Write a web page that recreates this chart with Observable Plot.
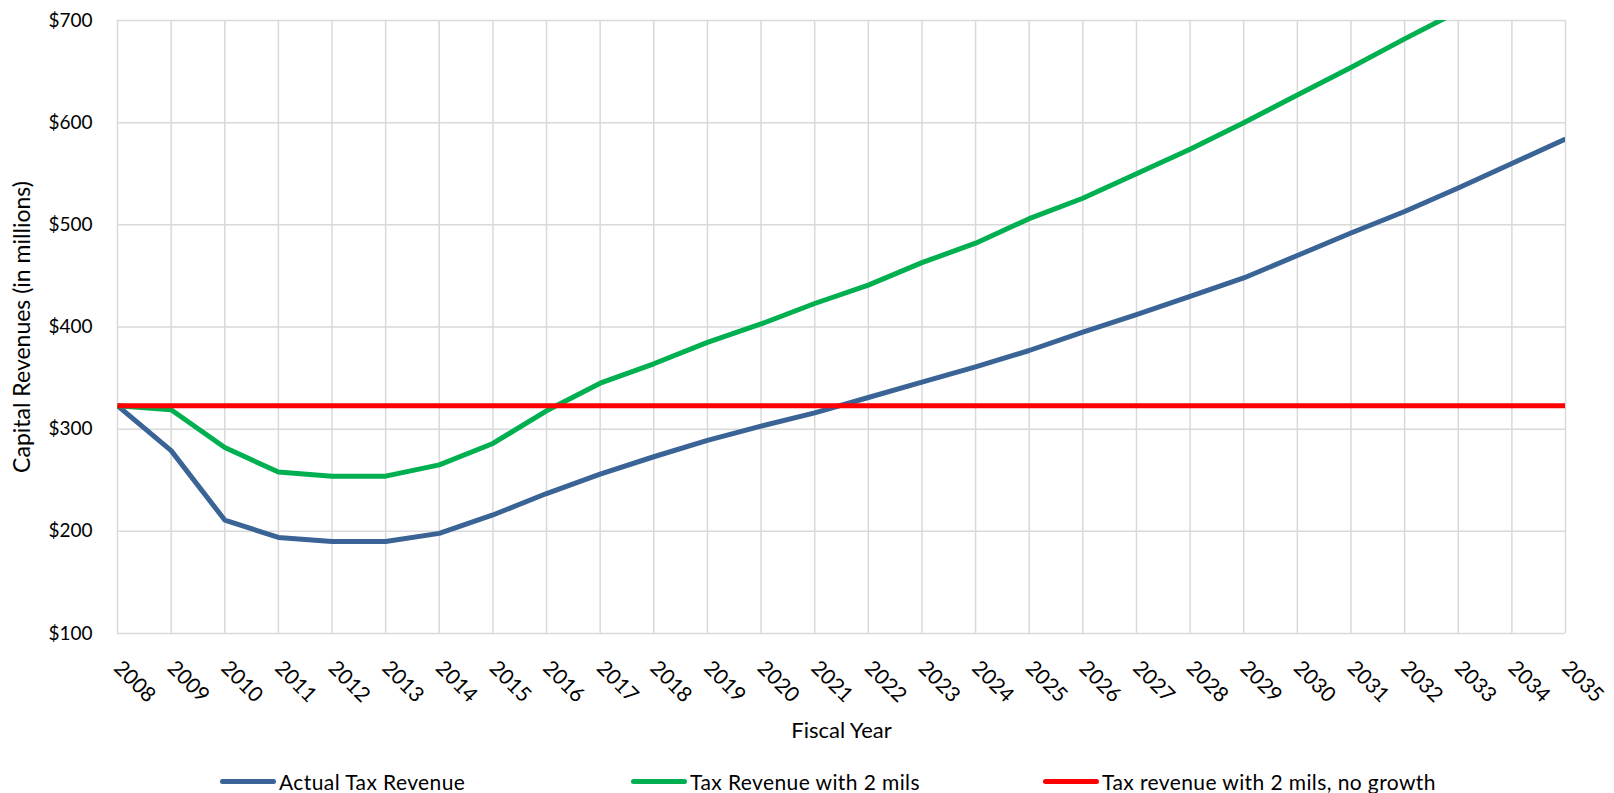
<!DOCTYPE html>
<html><head><meta charset="utf-8">
<script src="https://cdn.jsdelivr.net/npm/d3@7"></script>
<script src="https://cdn.jsdelivr.net/npm/@observablehq/plot@0.6"></script>
<style>
body{margin:0;background:#fff;font-family:Lato, sans-serif;}
#wrap{width:1614px;}
#legend{position:relative;width:1614px;height:28px;}
.item{position:absolute;top:4px;height:24px;display:flex;align-items:center;font-size:21px;letter-spacing:0.4px;color:#000;white-space:nowrap}
.sw{width:56px;height:5px;border-radius:3px;margin-right:3px}
</style></head><body><div id="wrap"></div>
<script>
const years = [2008,2009,2010,2011,2012,2013,2014,2015,2016,2017,2018,2019,2020,2021,2022,2023,2024,2025,2026,2027,2028,2029,2030,2031,2032,2033,2034,2035];
const actual = [323,279,211,194,190,190,198,216,237,256,273,289,303,316,331,346,361,377,395,412,430,448,470,492,513,536,560,584];
const with2mils = [323,319,282,258,254,254,265,286,318,345,364,385,403,423,441,463,482,506,526,550,574,600,627,654,682,709];
const noGrowth = [323,323,323,323,323,323,323,323,323,323,323,323,323,323,323,323,323,323,323,323,323,323,323,323,323,323,323,323];
const yTicks = [100,200,300,400,500,600,700];
const seriesNames = ["Actual Tax Revenue","Tax Revenue with 2 mils","Tax revenue with 2 mils, no growth"];
const seriesColors = ["#3b6496","#00b050","#ff0000"];
const legendLeft = [220, 631, 1043];

const seriesValues = [actual, with2mils, noGrowth];
const rows = [];
seriesNames.forEach((name, i) => {
  seriesValues[i].forEach((v, j) => rows.push({year: years[j], value: v, series: name}));
});

const chart = Plot.plot({
  width: 1614, height: 765,
  marginLeft: 117, marginRight: 49, marginTop: 20, marginBottom: 132,
  style: {fontFamily: "Lato, sans-serif", fontSize: "19px", color: "#000", background: "#fff", overflow: "visible"},
  x: {type: "linear", domain: [2008, 2035]},
  y: {domain: [100, 700]},
  color: {domain: seriesNames, range: seriesColors},
  marks: [
    Plot.gridX(years, {stroke: "#d9d9d9", strokeOpacity: 1, strokeWidth: 1.5}),
    Plot.gridY(yTicks, {stroke: "#d9d9d9", strokeOpacity: 1, strokeWidth: 1.5}),
    Plot.axisX(years, {tickFormat: d => String(d), tickRotate: 45, tickSize: 0, tickPadding: 31, fontSize: 21, label: null, fill: "#000"}),
    Plot.axisY(yTicks, {tickFormat: d => "$" + d, tickSize: 0, tickPadding: 25, label: null, fill: "#000"}),
    Plot.line(rows, {x: "year", y: "value", stroke: "series", strokeWidth: 5, clip: true, strokeLinejoin: "round", strokeLinecap: "butt"}),
    Plot.text(["Fiscal Year"], {text: d => d, frameAnchor: "bottom", lineAnchor: "middle", dy: 97, fontSize: 22, letterSpacing: 0.3, fill: "#000"}),
    Plot.text(["Capital Revenues (in millions)"], {text: d => d, frameAnchor: "left", textAnchor: "middle", lineAnchor: "middle", dx: -95, rotate: -90, fontSize: 23, fill: "#000", letterSpacing: 1.3})
  ]
});
const wrap = document.getElementById("wrap");
wrap.appendChild(chart);
const legend = document.createElement("div");
legend.id = "legend";
seriesNames.forEach((name, i) => {
  const it = document.createElement("div");
  it.className = "item";
  it.style.left = legendLeft[i] + "px";
  const sw = document.createElement("span");
  sw.className = "sw";
  sw.style.background = seriesColors[i];
  const tx = document.createElement("span");
  tx.textContent = name;
  it.appendChild(sw); it.appendChild(tx);
  legend.appendChild(it);
});
wrap.appendChild(legend);
</script></body></html>
